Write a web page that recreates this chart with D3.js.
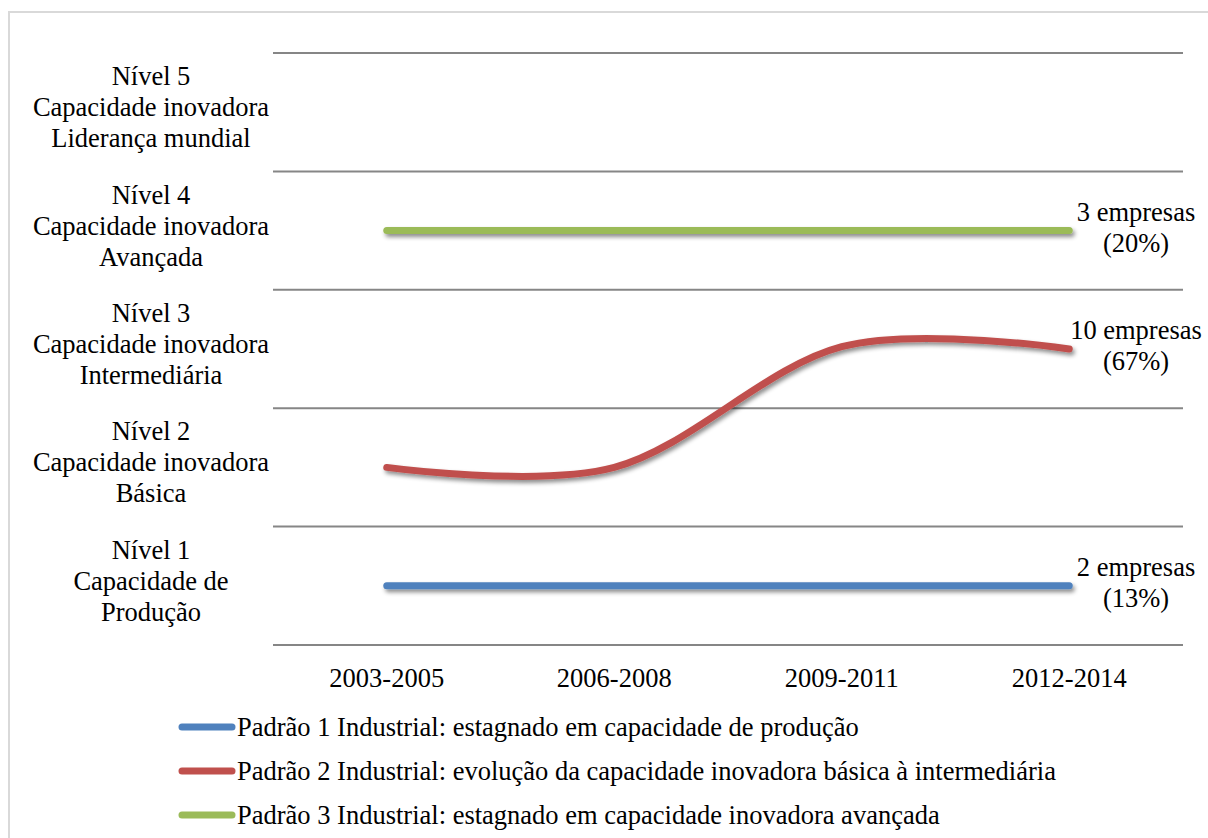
<!DOCTYPE html>
<html>
<meta charset="utf-8">
<style>
  body { margin: 0; background: #fff; }
  .grid line { stroke: #868686; stroke-width: 2; }
</style>
<body>
<script src="https://d3js.org/d3.v7.min.js"></script>
<script>
  let width = 1208, height = 838;
  let font = '"Liberation Serif"';
  let fs = 26.5;

  // data
  let periods = ["2003-2005", "2006-2008", "2009-2011", "2012-2014"];
  let levelLabels = [
    ["Nível 1", "Capacidade de", "Produção"],
    ["Nível 2", "Capacidade inovadora", "Básica"],
    ["Nível 3", "Capacidade inovadora", "Intermediária"],
    ["Nível 4", "Capacidade inovadora", "Avançada"],
    ["Nível 5", "Capacidade inovadora", "Liderança mundial"]
  ];
  let padrao1 = [1, 1, 1, 1];
  let padrao2 = [2, 2, 3.02, 3];
  let padrao3 = [4, 4, 4, 4];
  let seriesNames = [
    "Padrão 1 Industrial: estagnado em capacidade de produção",
    "Padrão 2 Industrial: evolução da capacidade inovadora básica à intermediária",
    "Padrão 3 Industrial: estagnado em capacidade inovadora avançada"
  ];
  let endLabels = [
    ["2 empresas", "(13%)"],
    ["10 empresas", "(67%)"],
    ["3 empresas", "(20%)"]
  ];
  let colors = ["#4f81bd", "#c0504d", "#9bbb59"];

  let svg = d3.select("body").append("svg")
    .attr("width", width)
    .attr("height", height);

  // drop shadow like excel (user space so flat lines keep it)
  let defs = svg.append("defs");
  let f = defs.append("filter").attr("id", "shadow")
    .attr("filterUnits", "userSpaceOnUse")
    .attr("x", 0).attr("y", 0).attr("width", width).attr("height", height);
  f.append("feDropShadow")
    .attr("dx", 2).attr("dy", 3).attr("stdDeviation", 2)
    .attr("flood-color", "#000").attr("flood-opacity", 0.45);

  // frame
  svg.append("rect")
    .attr("x", 9).attr("y", 12)
    .attr("width", 1220).attr("height", 850)
    .attr("fill", "none").attr("stroke", "#d9d9d9").attr("stroke-width", 2);

  let x = d3.scaleBand().domain(periods).range([273, 1183]);
  let y = d3.scaleLinear().domain([0.5, 5.5]).range([645, 53]);

  // gridlines
  svg.append("g").attr("class", "grid")
    .selectAll("line")
    .data(d3.range(0.5, 5.6, 1))
    .join("line")
    .attr("x1", 273).attr("x2", 1183)
    .attr("y1", d => y(d)).attr("y2", d => y(d));

  // y labels
  let lvl = svg.append("g").selectAll("text")
    .data(levelLabels)
    .join("text")
    .style("font-family", font)
    .attr("text-anchor", "middle")
    .attr("font-size", fs)
    .attr("x", 151)
    .attr("y", (d, i) => y(i + 1) - 5);
  lvl.selectAll("tspan")
    .data(d => d.map((t, j) => ({t, j})))
    .join("tspan")
    .attr("x", 151)
    .attr("dy", d => d.j == 0 ? "-1.17em" : "1.17em")
    .attr("dominant-baseline", "central")
    .text(d => d.t);

  // x labels
  svg.append("g").selectAll("text")
    .data(periods)
    .join("text")
    .style("font-family", font)
    .attr("text-anchor", "middle")
    .attr("font-size", fs)
    .attr("x", d => x(d) + x.bandwidth() / 2)
    .attr("y", 678)
    .attr("dominant-baseline", "central")
    .text(d => d);

  // lines
  let line = d3.line()
    .x((d, i) => x(periods[i]) + x.bandwidth() / 2)
    .y(d => y(d))
    .curve(d3.curveCardinal.tension(0));

  let allSeries = [padrao1, padrao2, padrao3];
  svg.append("g").selectAll("path")
    .data(allSeries)
    .join("path")
    .attr("d", d => line(d))
    .attr("fill", "none")
    .attr("stroke", (d, i) => colors[i])
    .attr("stroke-width", 7)
    .attr("stroke-linecap", "round")
    .attr("filter", "url(#shadow)");

  // end labels
  let ends = svg.append("g").selectAll("text")
    .data(endLabels)
    .join("text")
    .style("font-family", font)
    .attr("text-anchor", "middle")
    .attr("font-size", fs)
    .attr("y", (d, i) => y(allSeries[i][3]));
  ends.selectAll("tspan")
    .data(d => d.map((t, j) => ({t, j})))
    .join("tspan")
    .attr("x", 1136)
    .attr("dy", d => d.j == 0 ? "-0.7em" : "1.15em")
    .attr("dominant-baseline", "central")
    .text(d => d.t);

  // legend
  let leg = svg.append("g").selectAll("g")
    .data(seriesNames)
    .join("g")
    .attr("transform", (d, i) => `translate(0,${727 + i * 44})`);
  leg.append("line")
    .attr("x1", 182).attr("x2", 232)
    .attr("stroke", (d, i) => colors[i])
    .attr("stroke-width", 7)
    .attr("stroke-linecap", "round");
  leg.append("text")
    .style("font-family", font)
    .attr("x", 237)
    .attr("font-size", fs)
    .attr("dominant-baseline", "central")
    .text(d => d);
</script>
</body>
</html>
